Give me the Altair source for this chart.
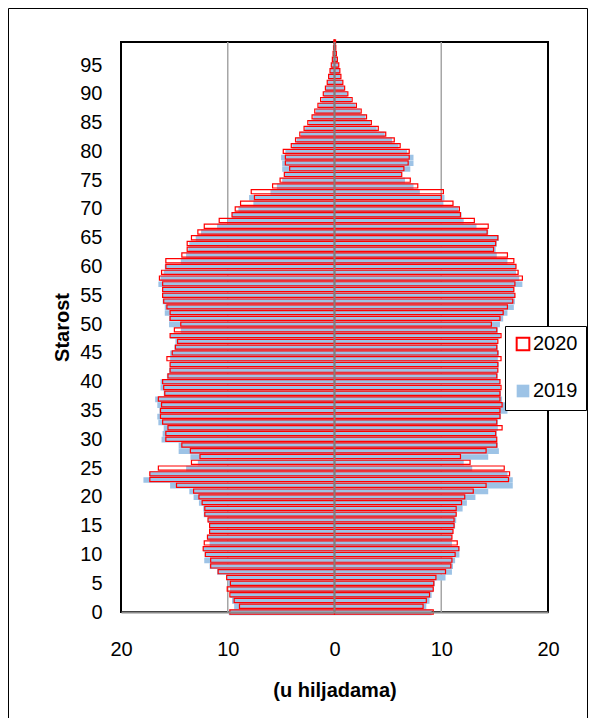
import altair as alt
import pandas as pd

ages = list(range(100))

# values in thousands, index = age 0..99
left_2020 = [9.8, 8.9, 9.4, 9.8, 10.05, 9.75, 10.1, 10.9, 11.6, 11.6,
             12.1, 12.3, 12.2, 11.9, 11.7, 11.7, 11.85, 12.15, 12.15, 12.4,
             12.7, 13.2, 14.8, 17.3, 17.3, 16.5, 13.4, 12.6, 13.5, 14.3,
             15.8, 15.8, 15.6, 16.1, 16.3, 16.3, 16.2, 16.5, 15.9, 16.0,
             16.1, 15.6, 15.4, 15.4, 15.7, 15.2, 14.9, 14.7, 15.4, 15.0,
             14.4, 15.4, 15.4, 15.7, 16.0, 16.1, 16.1, 16.1, 16.4, 16.2,
             15.8, 15.8, 14.3, 13.8, 13.8, 13.4, 12.8, 12.2, 10.8, 9.6,
             9.3, 8.8, 7.5, 7.8, 5.8, 5.1, 4.7, 4.2, 4.6, 4.6,
             4.8, 4.05, 3.65, 3.25, 2.85, 2.5, 2.1, 1.85, 1.55, 1.3,
             1.05, 0.85, 0.68, 0.55, 0.42, 0.3, 0.2, 0.13, 0.09, 0.06]
left_2019 = [9.9, 9.4, 9.6, 9.75, 9.8, 9.95, 10.1, 11.0, 11.7, 12.2,
             12.15, 12.3, 11.7, 11.9, 11.7, 11.7, 11.85, 12.25, 12.3, 12.7,
             13.2, 13.6, 15.4, 17.9, 17.3, 13.9, 12.8, 13.5, 14.6, 14.6,
             16.2, 16.1, 16.0, 16.5, 16.6, 16.4, 16.6, 16.8, 16.0, 16.3,
             16.3, 15.7, 15.5, 15.4, 15.4, 15.4, 15.0, 14.9, 15.4, 14.4,
             15.5, 15.5, 15.9, 15.9, 16.1, 16.1, 16.1, 16.5, 16.3, 16.0,
             15.9, 14.4, 13.9, 13.7, 13.6, 13.0, 12.5, 11.0, 10.0, 9.6,
             9.0, 7.6, 8.0, 6.0, 5.4, 4.9, 4.7, 4.9, 4.9, 5.0,
             4.6, 3.95, 3.55, 3.15, 2.75, 2.4, 2.0, 1.75, 1.45, 1.2,
             0.98, 0.8, 0.63, 0.5, 0.38, 0.27, 0.18, 0.12, 0.08, 0.05]
right_2020 = [9.25, 8.3, 8.6, 8.9, 9.25, 9.3, 9.5, 10.4, 10.9, 11.0,
              11.3, 11.65, 11.5, 11.0, 11.1, 11.2, 11.2, 11.4, 11.4, 11.9,
              12.2, 13.0, 14.2, 16.3, 16.4, 15.9, 12.7, 11.8, 14.2, 15.2,
              15.2, 15.1, 15.7, 15.2, 15.5, 15.5, 15.7, 15.5, 15.5, 15.6,
              15.5, 15.2, 15.3, 15.3, 15.6, 15.3, 15.2, 15.3, 15.6, 15.2,
              14.7, 15.5, 15.8, 16.2, 16.7, 16.9, 16.8, 16.9, 17.6, 17.2,
              17.0, 16.8, 16.2, 14.9, 15.1, 15.3, 14.3, 14.4, 13.1, 11.8,
              11.7, 11.1, 10.0, 10.2, 7.8, 7.1, 6.3, 6.5, 6.9, 7.0,
              7.0, 6.15, 5.6, 4.8, 4.1, 3.45, 3.0, 2.5, 2.05, 1.65,
              1.25, 0.95, 0.78, 0.6, 0.5, 0.4, 0.27, 0.18, 0.12, 0.1]
right_2019 = [9.1, 8.6, 8.9, 9.1, 9.25, 9.4, 10.4, 11.0, 11.1, 11.3,
              11.7, 11.7, 11.0, 11.0, 11.1, 11.3, 11.4, 11.4, 12.0, 12.4,
              13.2, 14.4, 16.7, 16.7, 16.2, 12.9, 12.1, 14.4, 15.4, 15.3,
              15.2, 15.2, 15.3, 15.3, 15.6, 16.2, 16.1, 15.7, 15.6, 15.5,
              15.5, 15.3, 15.3, 15.4, 15.3, 15.4, 15.3, 15.2, 15.5, 15.3,
              15.5, 15.8, 16.2, 16.8, 16.9, 16.9, 16.8, 17.6, 17.3, 17.0,
              17.0, 16.2, 15.2, 15.1, 15.2, 15.4, 14.4, 13.3, 12.1, 11.9,
              11.6, 10.2, 10.3, 8.0, 7.4, 6.6, 6.3, 7.1, 7.4, 7.4,
              6.8, 6.0, 5.4, 4.7, 3.95, 3.35, 2.9, 2.4, 1.95, 1.55,
              1.18, 0.9, 0.72, 0.56, 0.46, 0.36, 0.24, 0.16, 0.12, 0.1]

series_names = ["2020", "2019"]
age_ticks = list(range(0, 100, 5))
x_ticks = [-20, -10, 0, 10, 20]
grid_vals = [-10, 10]

rows = []
for i, a in enumerate(ages):
    rows.append({"age": a, "series": "2019", "val": -left_2019[i]})
    rows.append({"age": a, "series": "2019", "val": right_2019[i]})
for i, a in enumerate(ages):
    rows.append({"age": a, "series": "2020", "val": -left_2020[i]})
    rows.append({"age": a, "series": "2020", "val": right_2020[i]})
df = pd.DataFrame(rows)
df19 = df[df.series == "2019"]
df20 = df[df.series == "2020"]

FONT = "Liberation Sans, Arial, sans-serif"
BLUE = "#9dc3e6"
RED = "#ff0000"

xscale = alt.Scale(domain=[-20, 20], nice=False, zero=False)
yscale = alt.Scale(domain=[0, 99], nice=False, zero=False)
fill_scale = alt.Scale(domain=series_names, range=["transparent", BLUE])
stroke_scale = alt.Scale(domain=series_names, range=[RED, "transparent"])

x_axis = alt.Axis(values=x_ticks, labelExpr="abs(datum.value)", ticks=False,
                  grid=False, domainColor="#8a8a8a", domainWidth=2,
                  labelFlush=False, labelPadding=27, labelFontSize=20,
                  title="(u hiljadama)", titleFontSize=20, titleFontWeight="bold",
                  titlePadding=21, zindex=1)
y_axis = alt.Axis(values=age_ticks, ticks=False, grid=False, domain=False,
                  labelFlush=False, labelPadding=19, labelFontSize=20,
                  title="Starost", titleFontSize=20, titleFontWeight="bold",
                  titlePadding=7)

legend = alt.Legend(orient="none", legendX=384, legendY=284, title=None,
                    fillColor="white", strokeColor="black", padding=8,
                    rowPadding=25, symbolType="square", symbolSize=160,
                    symbolStrokeWidth=2, labelFontSize=20, labelFont=FONT,
                    labelColor="black", labelOffset=0)

grid = alt.Chart(pd.DataFrame({"g": grid_vals})).mark_rule(
    color="#a6a6a6", strokeWidth=1.5
).encode(x=alt.X("g:Q", scale=xscale, axis=x_axis))

blue = alt.Chart(df19).transform_calculate(
    y0="datum.age - 0.55", y1="datum.age + 0.42", z="0"
).mark_rect(strokeWidth=0).encode(
    x=alt.X("val:Q", scale=xscale, axis=x_axis),
    x2="z:Q",
    y=alt.Y("y0:Q", scale=yscale, axis=y_axis),
    y2="y1:Q",
    fill=alt.Fill("series:N", scale=fill_scale, legend=legend),
    stroke=alt.Stroke("series:N", scale=stroke_scale, legend=legend),
)

red = alt.Chart(df20).transform_calculate(
    y0="datum.age - 0.36", y1="datum.age + 0.36", z="0"
).mark_rect(strokeWidth=1.2).encode(
    x=alt.X("val:Q", scale=xscale, axis=x_axis),
    x2="z:Q",
    y=alt.Y("y0:Q", scale=yscale, axis=y_axis),
    y2="y1:Q",
    fill=alt.Fill("series:N", scale=fill_scale, legend=legend),
    stroke=alt.Stroke("series:N", scale=stroke_scale, legend=legend),
)

center = alt.Chart(pd.DataFrame({"c": [0]})).mark_rule(
    color="#808080", strokeWidth=2
).encode(x=alt.X("c:Q", scale=xscale, axis=x_axis))

frame = alt.Chart(pd.DataFrame({"f": [0]})).mark_rect(
    fillOpacity=0, stroke="black", strokeWidth=1
).encode(x=alt.value(-112.5), x2=alt.value(466.5), y=alt.value(-33.5), y2=alt.value(690))

chart = alt.layer(grid, blue, red, center, frame).properties(
    width=427, height=570, autosize="none",
    padding={"left": 113, "top": 34, "right": 40, "bottom": 106},
).configure_view(stroke="black", strokeWidth=2).configure_axis(
    labelFont=FONT, titleFont=FONT, labelColor="black", titleColor="black"
).configure_legend(labelFont=FONT)

chart.save("out.html", embed_options={"renderer": "svg", "actions": False})
